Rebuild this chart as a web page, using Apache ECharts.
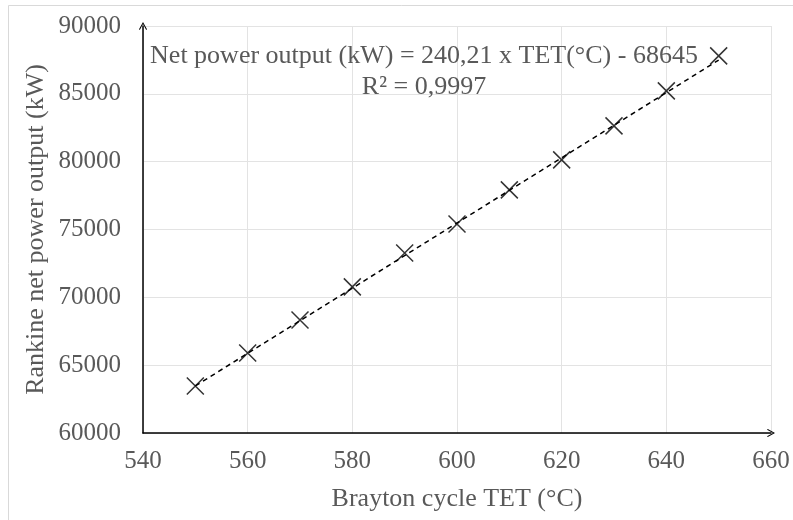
<!DOCTYPE html>
<html>
<head>
<meta charset="utf-8">
<script src="https://cdn.jsdelivr.net/npm/echarts@6/dist/echarts.min.js"></script>
<style>html,body{margin:0;padding:0;background:#fff}#c{width:793px;height:520px}</style>
</head>
<body>
<div id="c"></div>
<script>
var tet = [550, 560, 570, 580, 590, 600, 610, 620, 630, 640, 650];
var power = [63470, 65900, 68330, 70770, 73270, 75410, 77920, 80130, 82640, 85220, 87800];
var trendX = [550, 650];
var trendY = [63470, 87490];
var equationText = 'Net power output (kW) = 240,21 x TET(°C) - 68645';
var r2Text = 'R² = 0,9997';
var xName = 'Brayton cycle TET (°C)';
var yName = 'Rankine net power output (kW)';

var FONT = '"Liberation Serif", "Times New Roman", serif';
var GREY = '#595959';
var chart = echarts.init(document.getElementById('c'));
var chev = 'path://M5,0 L10,9 L9,10 L5,2.5 L1,10 L0,9 Z';
var xMark = 'path://M0,0 L10,10 M10,0 L0,10';

chart.setOption({
  animation: false,
  backgroundColor: '#fff',
  grid: {left: 143, top: 26, right: 22, bottom: 87},
  xAxis: {
    type: 'value', min: 540, max: 660, interval: 20,
    name: xName, nameLocation: 'middle', nameGap: 53,
    nameTextStyle: {fontFamily: FONT, fontSize: 26, color: GREY},
    axisLine: {show: true, onZero: false, symbol: ['none', chev], symbolSize: [9, 8], lineStyle: {color: '#000', width: 1.5}},
    axisTick: {show: false},
    axisLabel: {fontFamily: FONT, fontSize: 25, color: GREY, margin: 16},
    splitLine: {show: true, lineStyle: {color: '#e3e3e3', width: 1}}
  },
  yAxis: {
    type: 'value', min: 60000, max: 90000, interval: 5000,
    name: yName, nameLocation: 'middle', nameGap: 94, nameRotate: 90, nameMoveOverlap: false,
    nameTextStyle: {fontFamily: FONT, fontSize: 26, color: GREY},
    axisLine: {show: true, onZero: false, symbol: ['none', chev], symbolSize: [9, 8], lineStyle: {color: '#000', width: 1.5}},
    axisTick: {show: false},
    axisLabel: {fontFamily: FONT, fontSize: 25, color: GREY, margin: 22, formatter: function (v) { return String(v); }},
    splitLine: {show: true, lineStyle: {color: '#e3e3e3', width: 1}}
  },
  graphic: [
    {type: 'rect', shape: {x: 8.5, y: 5.5, width: 800, height: 530}, style: {fill: 'none', stroke: '#d9d9d9', lineWidth: 1}, z: -10},
    {type: 'text', x: 424, y: 56, style: {text: equationText, fontFamily: FONT, fontSize: 26, fill: GREY, textAlign: 'center', textVerticalAlign: 'middle'}, z: 10},
    {type: 'text', x: 424, y: 87, style: {text: r2Text, fontFamily: FONT, fontSize: 26, fill: GREY, textAlign: 'center', textVerticalAlign: 'middle'}, z: 10}
  ],
  series: [
    {
      type: 'line', data: trendX.map(function (x, i) { return [x, trendY[i]]; }),
      showSymbol: false, symbol: 'none', silent: true,
      lineStyle: {color: '#000', width: 1.5, type: [5, 4]}, z: 2
    },
    {
      type: 'scatter', data: tet.map(function (x, i) { return [x, power[i]]; }),
      symbol: xMark, symbolSize: 17,
      itemStyle: {color: 'rgba(0,0,0,0)', borderColor: '#000', borderWidth: 1.5}, z: 3
    }
  ]
});
</script>
</body>
</html>
